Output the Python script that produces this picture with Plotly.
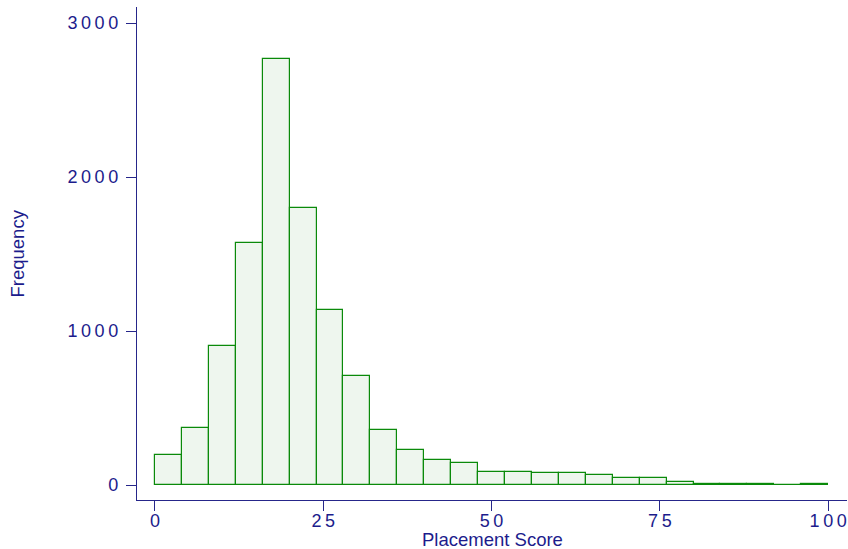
import plotly.graph_objects as go

bin_edges = list(range(0, 101, 4))
counts = [195, 372, 904, 1569, 2766, 1797, 1136, 710, 355, 225,
          162, 141, 86, 86, 80, 76, 67, 48, 48, 17,
          5, 4, 4, 3, 5]
x_ticks = [0, 25, 50, 75, 100]
y_ticks = [0, 1000, 2000, 3000]

centers = [(bin_edges[i] + bin_edges[i + 1]) / 2 for i in range(len(counts))]
widths = [bin_edges[i + 1] - bin_edges[i] for i in range(len(counts))]

THIN = "\u2009"
def spaced(v):
    return THIN.join(str(v))

axis_col = "#26268a"
text_col = "#1c1c8c"

fig = go.Figure(go.Bar(
    x=centers, y=counts, width=widths,
    marker=dict(color="#eef6ee", line=dict(color="#0a8a0a", width=1.2)),
))

fig.update_layout(
    width=848, height=549,
    margin=dict(l=137, r=1, t=7, b=49, autoexpand=False),
    paper_bgcolor="white", plot_bgcolor="white",
    showlegend=False,
    font=dict(family="Liberation Sans, Arial, sans-serif", color=text_col),
    bargap=0,
)
fig.update_xaxes(
    range=[-2.67, 102.8], tickvals=x_ticks, ticktext=[spaced(v) for v in x_ticks],
    showgrid=False, zeroline=False, showline=True, linecolor=axis_col, linewidth=1.3,
    ticks="outside", ticklen=10, tickcolor=axis_col, tickwidth=1.3,
    tickfont=dict(size=18, color=text_col), automargin=False, ticklabelstandoff=-6,
)
fig.update_yaxes(
    range=[-97, 3104], tickvals=y_ticks, ticktext=[spaced(v) for v in y_ticks],
    showgrid=False, zeroline=False, showline=True, linecolor=axis_col, linewidth=1.3,
    ticks="outside", ticklen=10, tickcolor=axis_col, tickwidth=1.3,
    tickfont=dict(size=18, color=text_col), automargin=False, ticklabelstandoff=4,
)
fig.add_annotation(
    text="Placement Score", xref="paper", yref="paper", x=0.5, y=0,
    xanchor="center", yanchor="middle", yshift=-39, showarrow=False,
    font=dict(size=18.5, color=text_col),
)
fig.add_annotation(
    text="Frequency", xref="paper", yref="paper", x=0, y=0.5,
    xanchor="center", yanchor="middle", xshift=-120, textangle=-90, showarrow=False,
    font=dict(size=18.5, color=text_col),
)

fig.write_html("out.html", config={"displayModeBar": False},
               post_script="document.body.style.margin='0';")
